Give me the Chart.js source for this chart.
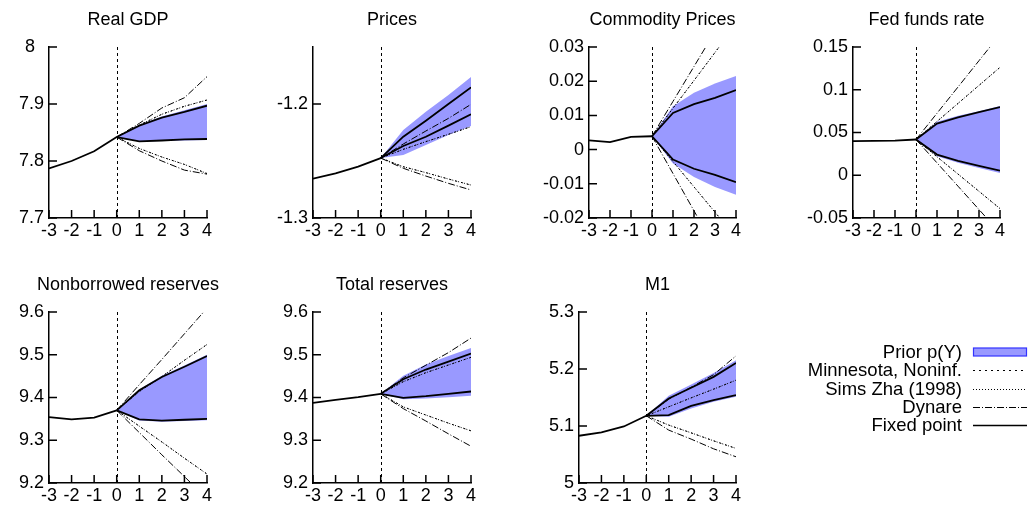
<!DOCTYPE html>
<html>
<head>
<meta charset="utf-8">
<script src="https://cdn.jsdelivr.net/npm/chart.js@4.4.1/dist/chart.umd.min.js"></script>
<style>
  body { margin: 0; background: #fff; width: 1029px; height: 517px; overflow: hidden; position: relative;
         font-family: 'Liberation Sans', Arial, sans-serif; }
  .panel { position: absolute; }
  .row { position: absolute; height: 20px; line-height: 20px; font-size: 18.5px; color: #000; }
  .row span { position: absolute; right: 0; white-space: nowrap; }
</style>
</head>
<body>
<div id="panels"></div>
<div id="legend"></div>
<script>
// quarters relative to the forecast origin
const pastQuarters = [-3, -2, -1, 0];
const aheadQuarters = [0, 1, 2, 3, 4];
const xTicks = [-3, -2, -1, 0, 1, 2, 3, 4];

const titles = ['Real GDP', 'Prices', 'Commodity Prices', 'Fed funds rate',
                'Nonborrowed reserves', 'Total reserves', 'M1'];

const yMin = [7.7, -1.3, -0.02, -0.05, 9.2, 9.2, 5];
const yMax = [8, -1.15, 0.03, 0.15, 9.6, 9.6, 5.3];
const yTicks = [
  [7.7, 7.8, 7.9, 8],
  [-1.3, -1.2],
  [-0.02, -0.01, 0, 0.01, 0.02, 0.03],
  [-0.05, 0, 0.05, 0.1, 0.15],
  [9.2, 9.3, 9.4, 9.5, 9.6],
  [9.2, 9.3, 9.4, 9.5, 9.6],
  [5, 5.1, 5.2, 5.3]
];
const yTickLabels = [
  ['7.7', '7.8', '7.9', '8\u2002'],
  ['-1.3', '-1.2'],
  ['-0.02', '-0.01', '0', '0.01', '0.02', '0.03'],
  ['-0.05', '0', '0.05', '0.1', '0.15'],
  ['9.2', '9.3', '9.4', '9.5', '9.6'],
  ['9.2', '9.3', '9.4', '9.5', '9.6'],
  ['5', '5.1', '5.2', '5.3']
];

// observed data, quarters -3..0
const history = [
  [7.787, 7.800, 7.817, 7.842],
  [-1.2655, -1.2608, -1.2550, -1.2474],
  [0.0027, 0.0022, 0.0037, 0.0039],
  [0.0398, 0.0402, 0.0406, 0.0418],
  [9.354, 9.349, 9.353, 9.370],
  [9.3875, 9.3946, 9.4008, 9.4086],
  [5.0829, 5.0887, 5.0992, 5.1179]
];

// forecast bounds, quarters 1..4
const priorHigh = [
  [7.863, 7.878, 7.889, 7.900],
  [-1.2228, -1.2067, -1.1920, -1.1764],
  [0.0127, 0.0166, 0.0193, 0.0215],
  [0.0625, 0.0695, 0.0750, 0.0809],
  [9.419, 9.451, 9.475, 9.500],
  [9.4506, 9.477, 9.497, 9.516],
  [5.153, 5.1728, 5.1932, 5.2154]
];
const priorLow = [
  [7.834, 7.835, 7.836, 7.837],
  [-1.2447, -1.236, -1.2272, -1.2193],
  [-0.0041, -0.0080, -0.0109, -0.0132],
  [0.0223, 0.0145, 0.0086, 0.0027],
  [9.346, 9.343, 9.345, 9.347],
  [9.396, 9.3977, 9.4008, 9.4039],
  [5.1162, 5.1308, 5.1424, 5.1512]
];
const minnesotaHigh = [
  [7.863, 7.882, 7.896, 7.907],
  [-1.2398, -1.233, -1.2266, -1.2199],
  [0.0121, 0.0202, 0.0284, 0.0366],
  [0.0629, 0.084, 0.1051, 0.1262],
  [9.414, 9.449, 9.487, 9.524],
  [9.437, 9.458, 9.476, 9.494],
  [5.1337, 5.1494, 5.1646, 5.1804]
];
const minnesotaLow = [
  [7.822, 7.807, 7.794, 7.778],
  [-1.255, -1.2602, -1.2658, -1.2711],
  [-0.0035, -0.0109, -0.0183, -0.0257],
  [0.0216, 0.0014, -0.0188, -0.039],
  [9.333, 9.296, 9.258, 9.221],
  [9.378, 9.359, 9.340, 9.322],
  [5.1016, 5.088, 5.074, 5.0607]
];
const simsHigh = [
  [7.863, 7.882, 7.896, 7.907],
  [-1.2398, -1.233, -1.2266, -1.2199],
  [0.0121, 0.0202, 0.0284, 0.0366],
  [0.0629, 0.084, 0.1051, 0.1262],
  [9.414, 9.449, 9.487, 9.524],
  [9.437, 9.458, 9.476, 9.494],
  [5.1337, 5.1494, 5.1646, 5.1804]
];
const simsLow = [
  [7.822, 7.807, 7.794, 7.778],
  [-1.255, -1.2602, -1.2658, -1.2711],
  [-0.0035, -0.0109, -0.0183, -0.0257],
  [0.0216, 0.0014, -0.0188, -0.039],
  [9.333, 9.296, 9.258, 9.221],
  [9.378, 9.359, 9.340, 9.322],
  [5.1016, 5.088, 5.074, 5.0607]
];
const dynareHigh = [
  [7.866, 7.893, 7.911, 7.948],
  [-1.2351, -1.2237, -1.2126, -1.2003],
  [0.0141, 0.0243, 0.0345, 0.0447],
  [0.0725, 0.1032, 0.134, 0.1647],
  [9.430, 9.489, 9.549, 9.609],
  [9.446, 9.4755, 9.505, 9.539],
  [5.147, 5.168, 5.19, 5.223]
];
const dynareLow = [
  [7.818, 7.800, 7.784, 7.777],
  [-1.2564, -1.2632, -1.2696, -1.2754],
  [-0.0070, -0.0179, -0.0288, -0.0397],
  [0.0145, -0.0128, -0.0401, -0.0674],
  [9.318, 9.266, 9.215, 9.163],
  [9.374, 9.345, 9.315, 9.286],
  [5.0928, 5.077, 5.06, 5.046]
];
const fixedHigh = [
  [7.862, 7.876, 7.886, 7.897],
  [-1.2287, -1.2146, -1.2000, -1.1854],
  [0.0107, 0.0133, 0.0151, 0.0174],
  [0.0605, 0.0676, 0.0738, 0.0797],
  [9.417, 9.448, 9.472, 9.497],
  [9.4428, 9.4654, 9.484, 9.5027],
  [5.1483, 5.167, 5.1862, 5.2107]
];
const fixedLow = [
  [7.8345, 7.836, 7.838, 7.8386],
  [-1.2368, -1.2287, -1.219, -1.209],
  [-0.0029, -0.0056, -0.0074, -0.0095],
  [0.0242, 0.0168, 0.0109, 0.0055],
  [9.349, 9.346, 9.348, 9.350],
  [9.3992, 9.403, 9.4086, 9.414],
  [5.1191, 5.1354, 5.1454, 5.1541]
];

const legendNames = ['Prior p(Y)', 'Minnesota, Noninf.', 'Sims Zha (1998)', 'Dynare', 'Fixed point'];

Chart.defaults.font.family = "'Liberation Sans', Arial, sans-serif";
Chart.defaults.font.size = 18;
Chart.defaults.color = '#000';

const BAND = '#9999ff';
const DASH = { minnesota: [2, 4], sims: [1, 2], dynare: [7, 2, 1, 2] };

// layout of the small multiples
const plotLeft = [49, 313, 589, 853, 49, 313, 579];
const plotRight = [207, 471, 736, 1000, 207, 471, 736];
const rowTop = [0, 0, 0, 0, 265, 265, 265];
const YW = 50, H = 250, XH = 32;

function ahead(start, vals) {
  return aheadQuarters.map((q, k) => ({ x: q, y: k === 0 ? start : vals[k - 1] }));
}

function line(data, dash, width, order) {
  return { data, borderColor: '#000', borderWidth: width, borderDash: dash,
           pointRadius: 0, tension: 0, fill: false, order };
}

// zero line and inward tick marks, gnuplot style
const decor = {
  id: 'decor',
  beforeDatasetsDraw(chart) {
    const { ctx, chartArea, scales } = chart;
    const px = Math.round(scales.x.getPixelForValue(0)) + 0.5;
    ctx.save();
    ctx.strokeStyle = '#000';
    ctx.lineWidth = 1;
    ctx.setLineDash([3, 3]);
    ctx.beginPath();
    ctx.moveTo(px, chartArea.top);
    ctx.lineTo(px, chartArea.bottom);
    ctx.stroke();
    ctx.restore();
  },
  afterDraw(chart) {
    const { ctx, chartArea, scales } = chart;
    ctx.save();
    ctx.strokeStyle = '#000';
    ctx.lineWidth = 1.5;
    ctx.beginPath();
    scales.x.ticks.forEach(t => {
      const p = scales.x.getPixelForValue(t.value);
      ctx.moveTo(p, chartArea.bottom);
      ctx.lineTo(p, chartArea.bottom - 8);
    });
    scales.y.ticks.forEach(t => {
      const p = scales.y.getPixelForValue(t.value);
      ctx.moveTo(chartArea.left, p);
      ctx.lineTo(chartArea.left + 8, p);
    });
    ctx.stroke();
    ctx.restore();
  }
};

const holder = document.getElementById('panels');

titles.forEach((title, i) => {
  const div = document.createElement('div');
  div.className = 'panel';
  const w = plotRight[i] - plotLeft[i] + 2 * YW;
  div.style.left = (plotLeft[i] - YW) + 'px';
  div.style.top = rowTop[i] + 'px';
  const canvas = document.createElement('canvas');
  canvas.width = w;
  canvas.height = H;
  div.appendChild(canvas);
  holder.appendChild(div);

  const origin = history[i][history[i].length - 1];

  new Chart(canvas.getContext('2d'), {
    type: 'line',
    data: {
      datasets: [
        line(pastQuarters.map((q, k) => ({ x: q, y: history[i][k] })), [], 1.8, 0),
        { data: ahead(origin, priorLow[i]), borderWidth: 0, borderColor: 'transparent',
          pointRadius: 0, tension: 0, fill: false, order: 10 },
        { data: ahead(origin, priorHigh[i]), borderWidth: 0, borderColor: 'transparent',
          backgroundColor: BAND, pointRadius: 0, tension: 0, fill: '-1', order: 10 },
        line(ahead(origin, minnesotaHigh[i]), DASH.minnesota, 1, 4),
        line(ahead(origin, minnesotaLow[i]), DASH.minnesota, 1, 4),
        line(ahead(origin, simsHigh[i]), DASH.sims, 1, 3),
        line(ahead(origin, simsLow[i]), DASH.sims, 1, 3),
        line(ahead(origin, dynareHigh[i]), DASH.dynare, 1, 2),
        line(ahead(origin, dynareLow[i]), DASH.dynare, 1, 2),
        line(ahead(origin, fixedHigh[i]), [], 1.8, 0),
        line(ahead(origin, fixedLow[i]), [], 1.8, 0)
      ]
    },
    options: {
      responsive: false,
      animation: false,
      devicePixelRatio: 1,
      layout: { padding: 0 },
      plugins: {
        legend: { display: false },
        tooltip: { enabled: false },
        title: {
          display: true,
          text: title,
          color: '#000',
          font: { size: 18, weight: 'normal' },
          padding: { top: 9.2, bottom: 16.2 }
        }
      },
      scales: {
        x: {
          type: 'linear',
          min: -3,
          max: 4,
          afterBuildTicks: s => { s.ticks = xTicks.map(v => ({ value: v })); },
          afterFit: s => { s.height = XH; },
          grid: { display: false, drawTicks: false },
          border: { display: true, color: '#000', width: 1.5 },
          ticks: { padding: 2, maxRotation: 0, autoSkip: false, callback: v => String(v) }
        },
        y: {
          type: 'linear',
          min: yMin[i],
          max: yMax[i],
          afterBuildTicks: s => { s.ticks = yTicks[i].map(v => ({ value: v })); },
          afterFit: s => { s.width = YW; },
          grid: { display: false, drawTicks: false },
          border: { display: true, color: '#000', width: 1.5 },
          ticks: { padding: 5, autoSkip: false,
                   callback: (v, k) => yTickLabels[i][k] }
        },
        // empty axis on the right so the title centres over the plot area
        yRight: {
          type: 'linear',
          position: 'right',
          afterFit: s => { s.width = YW; },
          grid: { display: false, drawTicks: false },
          border: { display: false },
          ticks: { display: false }
        }
      }
    },
    plugins: [decor]
  });
});

// legend, text right aligned with the line sample to its right
const legendRowY = [352, 370, 388.5, 407, 425];
const legend = document.getElementById('legend');
legendNames.forEach((name, k) => {
  const row = document.createElement('div');
  row.className = 'row';
  row.style.left = '700px';
  row.style.width = '262px';
  row.style.top = (legendRowY[k] - 10) + 'px';
  row.innerHTML = '<span>' + name + '</span>';
  legend.appendChild(row);

  const svgNS = 'http://www.w3.org/2000/svg';
  const svg = document.createElementNS(svgNS, 'svg');
  svg.setAttribute('width', '56');
  svg.setAttribute('height', '20');
  svg.style.position = 'absolute';
  svg.style.left = '972px';
  svg.style.top = (legendRowY[k] - 10) + 'px';
  let el;
  if (k === 0) {
    el = document.createElementNS(svgNS, 'rect');
    el.setAttribute('x', '1.5'); el.setAttribute('y', '6');
    el.setAttribute('width', '53'); el.setAttribute('height', '8');
    el.setAttribute('fill', BAND); el.setAttribute('stroke', '#3333ff');
    el.setAttribute('stroke-width', '1.2');
  } else {
    el = document.createElementNS(svgNS, 'line');
    el.setAttribute('x1', '1'); el.setAttribute('x2', '55');
    el.setAttribute('y1', '10.5'); el.setAttribute('y2', '10.5');
    el.setAttribute('stroke', '#000');
    const d = [null, DASH.minnesota, DASH.sims, DASH.dynare, null][k];
    el.setAttribute('stroke-width', d ? '1' : '1.5');
    if (d) el.setAttribute('stroke-dasharray', d.join(','));
  }
  svg.appendChild(el);
  legend.appendChild(svg);
});
</script>
</body>
</html>
